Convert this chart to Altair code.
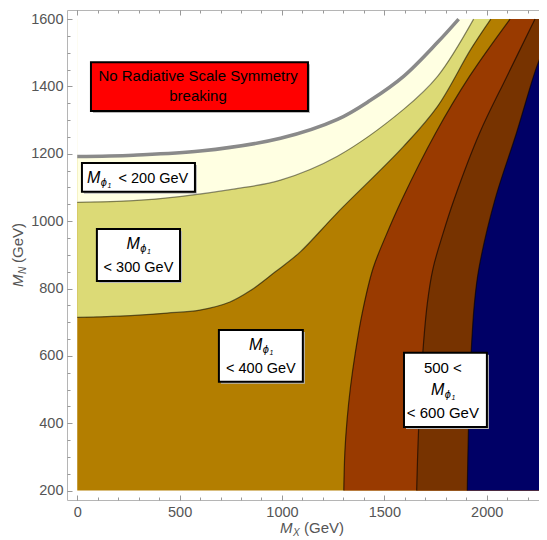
import altair as alt
import pandas as pd

# ---------------- data ----------------
# contour boundaries (M_X, M_N) in GeV
# A: edge of the "no radiative scale symmetry breaking" region
A_X = [0, 274, 600, 993, 1271, 1430, 1594, 1760, 1863]
A_Y = [1192, 1196, 1208, 1246, 1302, 1358, 1430, 1531, 1600]
# B: M_phi1 = 200 GeV
B_X = [0, 274, 500, 763, 993, 1271, 1594, 1760, 1936]
B_Y = [1056, 1061, 1073, 1095, 1122, 1193, 1332, 1430, 1600]
# C: M_phi1 = 300 GeV
C_X = [0, 209, 438, 599, 746, 844, 966, 1088, 1269, 1594, 1760, 1922, 2020]
C_Y = [714, 718, 727, 736, 760, 793, 849, 908, 1024, 1222, 1341, 1510, 1600]
# D: M_phi1 = 400 GeV
D_Y = [200, 312, 410, 509, 608, 727, 860, 960, 1063, 1261, 1429, 1600]
D_X = [1302, 1307, 1318, 1335, 1358, 1392, 1445, 1510, 1585, 1750, 1915, 2114]
# E: M_phi1 = 500 GeV
E_Y = [200, 360, 558, 756, 860, 960, 1063, 1261, 1429, 1600]
E_X = [1658, 1666, 1682, 1710, 1738, 1785, 1840, 1965, 2098, 2236]
# F: M_phi1 = 600 GeV
F_Y = [200, 360, 558, 756, 860, 1063, 1261, 1458, 1531]
F_X = [1905, 1910, 1920, 1940, 1962, 2040, 2145, 2244, 2293]

REGION_X = [0, 2295]
REGION_Y = [200, 1600]

X_MAJOR = [0, 500, 1000, 1500, 2000]
X_MINOR = [0, 100, 200, 300, 400, 500, 600, 700, 800, 900, 1000, 1100,
           1200, 1300, 1400, 1500, 1600, 1700, 1800, 1900, 2000, 2100, 2200]
Y_MAJOR = [200, 400, 600, 800, 1000, 1200, 1400, 1600]
Y_MINOR = [200, 250, 300, 350, 400, 450, 500, 550, 600, 650, 700, 750, 800,
           850, 900, 950, 1000, 1050, 1100, 1150, 1200, 1250, 1300, 1350,
           1400, 1450, 1500, 1550, 1600]

# annotation boxes
BOX_X = [67, 23, 96, 692, 1596]
BOX_X2 = [1127, 575, 502, 1102, 2001]
BOX_Y = [1472, 1173, 977, 677, 609]
BOX_Y2 = [1327, 1087, 822, 523, 389]
BOX_FILL = ["#ff0000", "#ffffff", "#ffffff", "#ffffff", "#ffffff"]

TXT = ["No Radiative Scale Symmetry", "breaking", "< 200 GeV", "< 300 GeV",
       "< 400 GeV", "500 <", "< 600 GeV"]
TXT_X = [590, 590, 372, 299, 897, 1786, 1786]
TXT_Y = [1416, 1357, 1113, 849, 549, 549, 416]
TXT_SIZE = [15, 15, 14.5, 14.5, 14.5, 15, 15]

SYM_X = [106, 299, 897, 1786]
SYM_Y = [1113, 917, 618, 484]

# ---------------- styling ----------------
FONT = "Liberation Sans"
C_GOLD = "#b37e00"
C_YELLOW = "#dcda76"
C_CREAM = "#ffffe2"
C_RUST = "#993a00"
C_BROWN = "#773300"
C_NAVY = "#000066"
AX_GRAY = "#999999"
LAB_GRAY = "#555555"

x_scale = alt.Scale(domain=[-50, 2255.5], nice=False, zero=False)
y_scale = alt.Scale(domain=[172, 1627], nice=False, zero=False)

def ax(orient, values, size, labels=False):
    kw = dict(orient=orient, values=values, tickSize=size, offset=-size,
              domain=False, grid=False, title=None, tickColor=AX_GRAY,
              tickWidth=1, labels=labels)
    if labels:
        kw.update(labelFont=FONT, labelFontSize=14.5, labelColor=LAB_GRAY,
                  format="d", labelPadding=5 if orient == "bottom" else 4)
    return alt.Axis(**kw)

def X(field, axis=None):
    return alt.X(field, type="quantitative", scale=x_scale, axis=axis)

def Y(field, axis=None):
    return alt.Y(field, type="quantitative", scale=y_scale, axis=axis)

# base region (gold)
base = pd.DataFrame({"x": [REGION_X[0]], "x2": [REGION_X[1]],
                     "y": [REGION_Y[0]], "y2": [REGION_Y[1]]})
l_base = alt.Chart(base).mark_rect(color=C_GOLD, clip=True).encode(
    x=X("x", ax("bottom", X_MAJOR, 5, labels=True)), x2="x2",
    y=Y("y", ax("left", Y_MAJOR, 5, labels=True)), y2="y2")

def above(xs, ys, color, xaxis=None, yaxis=None):
    df = pd.DataFrame({"x": xs, "y": ys, "y2": [REGION_Y[1]] * len(xs)})
    return alt.Chart(df).mark_area(color=color, interpolate="catmull-rom",
                                   clip=True).encode(
        x=X("x", xaxis), y=Y("y", yaxis), y2="y2")

def right_of(xs, ys, color):
    df = pd.DataFrame({"x": xs, "y": ys, "x2": [REGION_X[1]] * len(xs)})
    return alt.Chart(df).mark_area(color=color, interpolate="catmull-rom",
                                   orient="horizontal", clip=True).encode(
        y=Y("y"), x=X("x"), x2="x2")

def line(xs, ys, color, width, opacity=1.0):
    df = pd.DataFrame({"x": xs, "y": ys, "i": list(range(len(xs)))})
    return alt.Chart(df).mark_line(color=color, strokeWidth=width,
                                   opacity=opacity, interpolate="catmull-rom",
                                   clip=True).encode(
        x=X("x"), y=Y("y"), order="i:Q")

l_yellow = above(C_X, C_Y, C_YELLOW, ax("bottom", X_MINOR, 3), ax("left", Y_MINOR, 3))
l_cream = above(B_X, B_Y, C_CREAM, ax("top", X_MAJOR, 5))
l_white = above(A_X, A_Y, "#ffffff", ax("top", X_MINOR, 3))
l_rust = right_of(D_X, D_Y, C_RUST)
l_brown = right_of(E_X, E_Y, C_BROWN)
l_navy = right_of(F_X, F_Y, C_NAVY)

lines = [line(B_X, B_Y, "#000000", 1.2, 0.45),
         line(C_X, C_Y, "#000000", 1.2, 0.55),
         line(D_X, D_Y, "#000000", 1.2, 0.6),
         line(E_X, E_Y, "#000000", 1.2, 0.6),
         line(F_X, F_Y, "#000000", 1.2, 0.6),
         line(A_X, A_Y, "#8a8a8a", 3.5)]

boxes = pd.DataFrame({"x": BOX_X, "x2": BOX_X2, "y": BOX_Y, "y2": BOX_Y2,
                      "fill": BOX_FILL})
l_shadow = alt.Chart(boxes).mark_rect(color="#b8b8b8", xOffset=2, x2Offset=2,
                                      yOffset=2, y2Offset=2).encode(
    x=X("x"), x2="x2", y=Y("y"), y2="y2")
l_boxes = alt.Chart(boxes).mark_rect(stroke="#000000", strokeWidth=2).encode(
    x=X("x"), x2="x2", y=Y("y"), y2="y2",
    fill=alt.Fill("fill:N", scale=None))

txt = pd.DataFrame({"x": TXT_X, "y": TXT_Y, "t": TXT, "s": TXT_SIZE})
l_txt = alt.Chart(txt).mark_text(font=FONT, color="#000000", align="center",
                                 baseline="alphabetic").encode(
    x=X("x"), y=Y("y"), text="t:N", size=alt.Size("s:Q", scale=None))

sym = pd.DataFrame({"x": SYM_X, "y": SYM_Y})
def sym_piece(text, size, dx, dy):
    return alt.Chart(sym).mark_text(font=FONT, fontStyle="italic", color="#000000",
                                    align="left", baseline="alphabetic",
                                    fontSize=size, dx=dx, dy=dy).encode(
        x=X("x"), y=Y("y"), text=alt.value(text))

l_sym = [sym_piece("M", 16, -12, 0), sym_piece("\u03d5", 11, 1.8, 3),
         sym_piece("1", 7, 8.5, 5)]

one = pd.DataFrame({"k": [0]})
def title_piece(text, x, y, size, italic, angle=0):
    kw = dict(font=FONT, color=LAB_GRAY, align="left", baseline="alphabetic",
              fontSize=size, angle=angle)
    if italic:
        kw["fontStyle"] = "italic"
    return alt.Chart(one).mark_text(**kw).encode(
        x=alt.value(x), y=alt.value(y), text=alt.value(text))

l_titles = [
    title_piece("M", 213, 523, 15, True),
    title_piece("X", 226, 526, 10, True),
    title_piece("(GeV)", 237, 523, 15, False),
    title_piece("M", -44, 277, 15, True, 270),
    title_piece("N", -41, 264, 10, True, 270),
    title_piece("(GeV)", -44, 253, 15, False, 270),
]

chart = alt.layer(
    l_base, l_yellow, l_cream, l_white, l_rust, l_brown, l_navy,
    *lines, l_shadow, l_boxes, l_txt, *l_sym, *l_titles
).resolve_axis(x="independent", y="independent").properties(
    width=472, height=490,
    autosize=alt.AutoSizeParams(type="none"),
    padding={"left": 59, "top": 2, "right": 0, "bottom": 40},
    background="#ffffff",
).configure_view(stroke="#b5b5b5", strokeWidth=1)

chart.save("out.html", embed_options={"renderer": "svg", "actions": False})
